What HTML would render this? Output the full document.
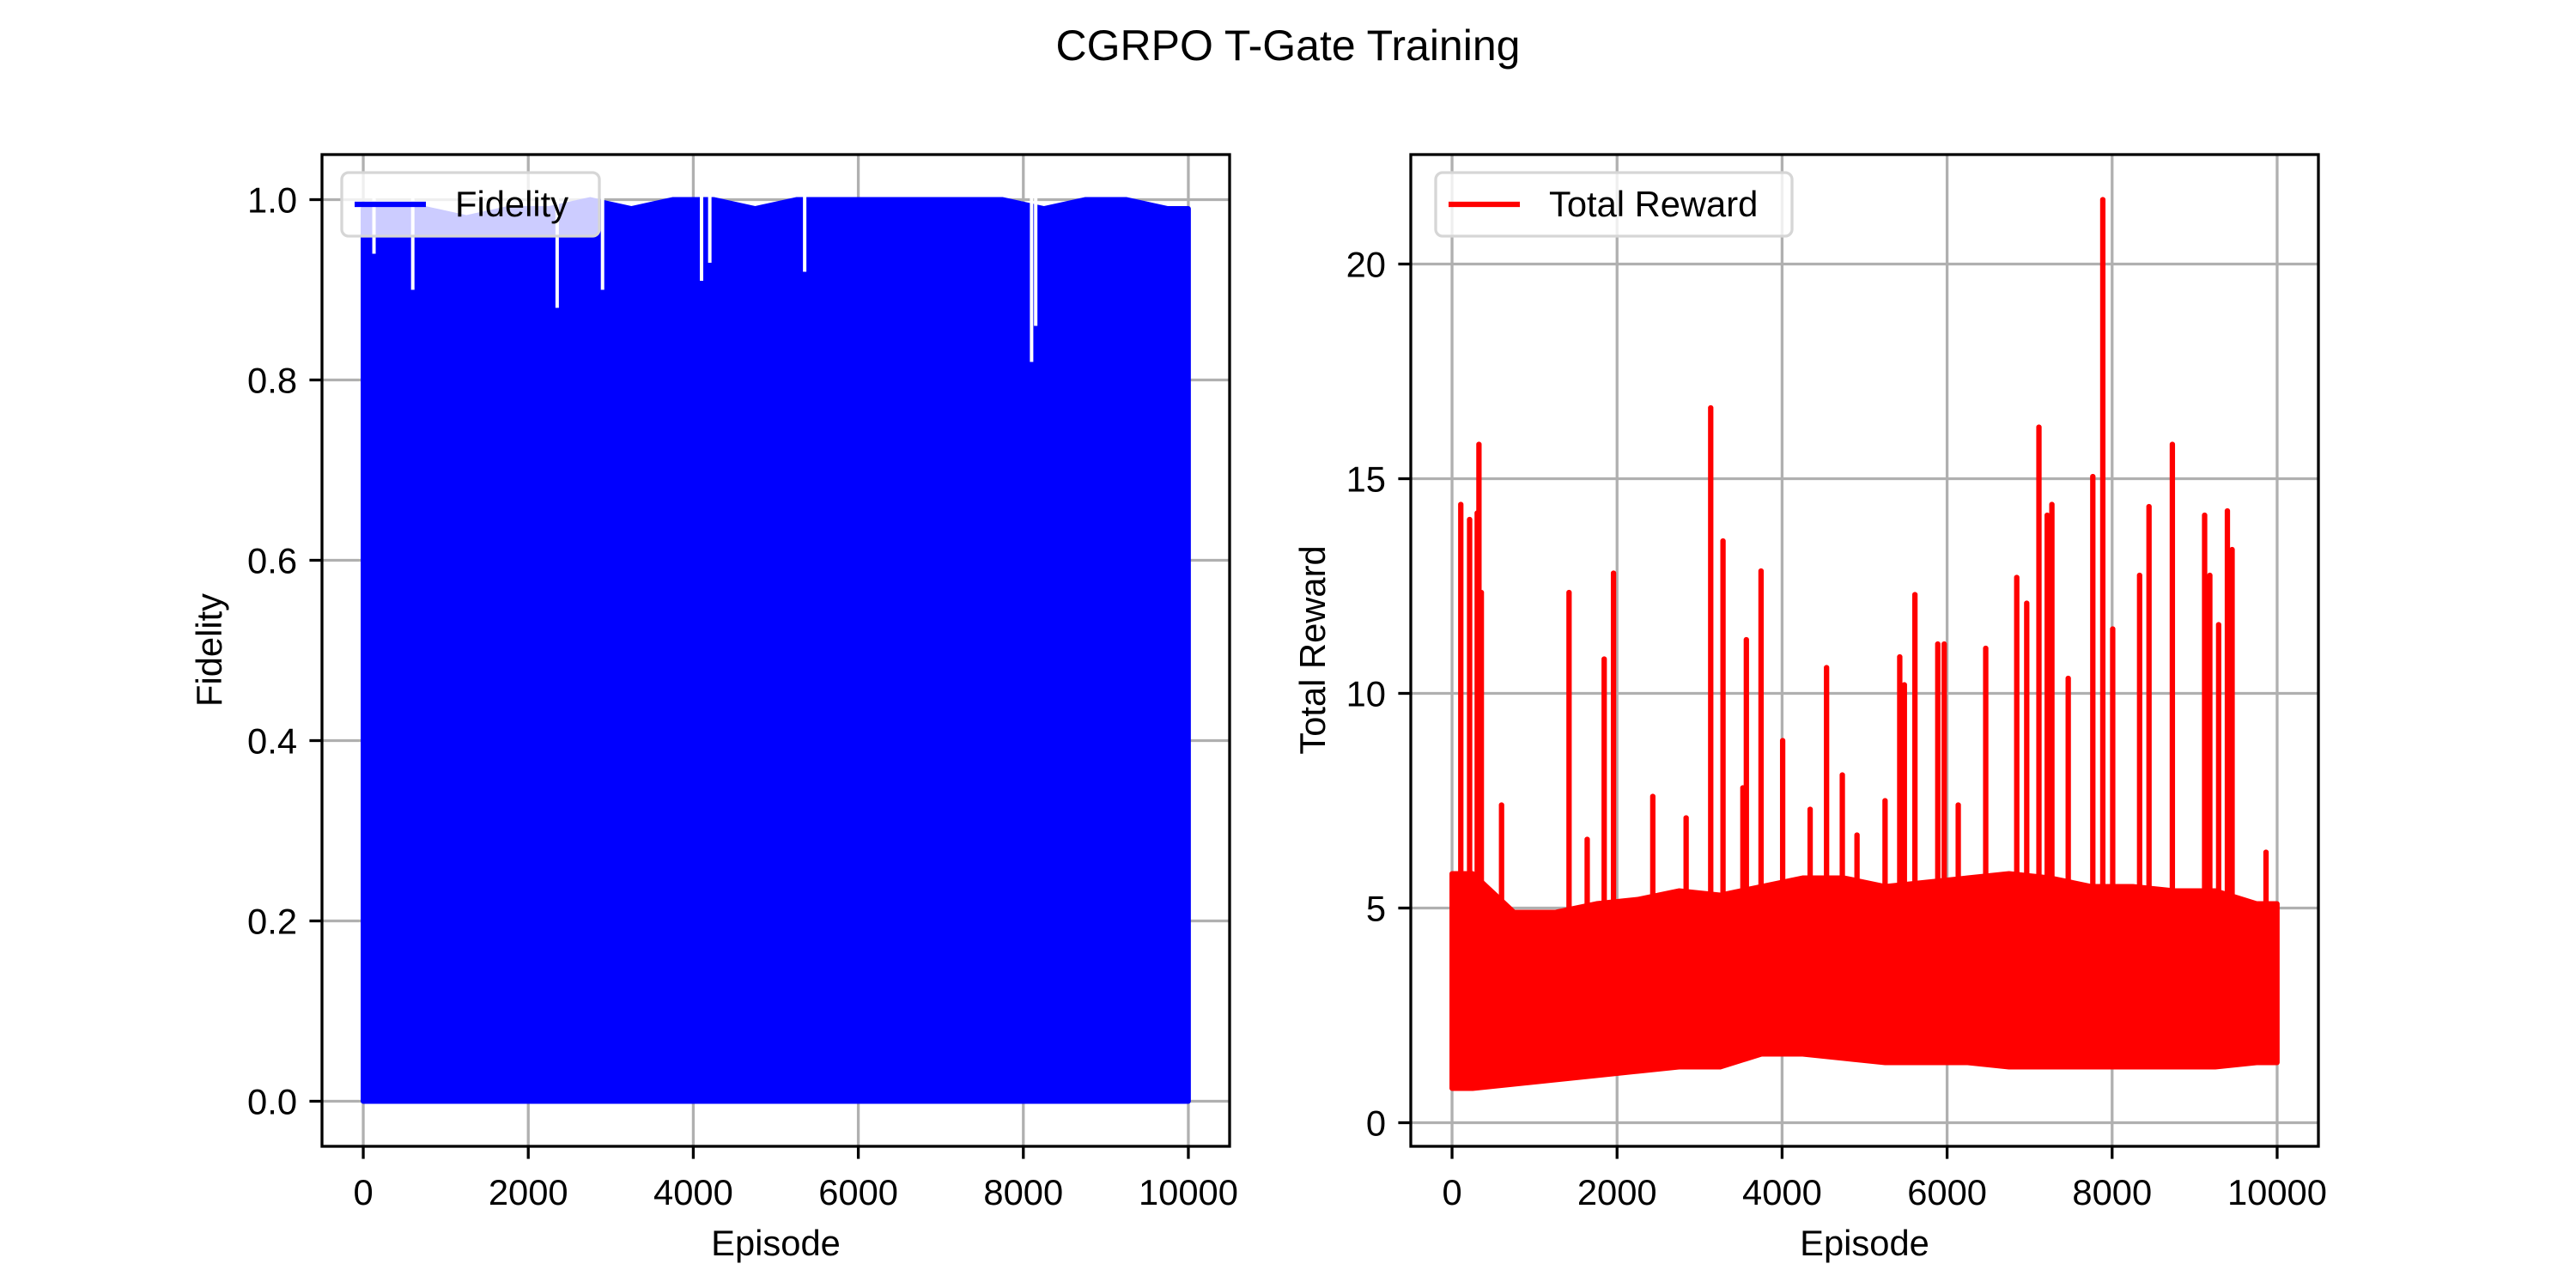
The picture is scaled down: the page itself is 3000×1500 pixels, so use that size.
<!DOCTYPE html>
<html><head><meta charset="utf-8"><style>
html,body{margin:0;padding:0;background:#fff;}
svg{display:block;font-family:"Liberation Sans","DejaVu Sans",sans-serif;}
</style></head><body>
<svg id="fig" width="3000" height="1500" viewBox="0 0 3000 1500">
<rect width="3000" height="1500" fill="#fff"/>
<text x="1500" y="70" font-size="50" text-anchor="middle">CGRPO T-Gate Training</text>
<g id="ax1"></g>
<g id="ax2"></g>
</svg>
<script>
// ---- data ----
const xTicks = [0, 2000, 4000, 6000, 8000, 10000];
const fidTicks = [0.0, 0.2, 0.4, 0.6, 0.8, 1.0];
const rewTicks = [0, 5, 10, 15, 20];
// fidelity envelope per 500-episode bin
const fidBinStart = [0,500,1000,1500,2000,2500,3000,3500,4000,4500,5000,5500,6000,6500,7000,7500,8000,8500,9000,9500];
const fidHi = [0.99,0.99,0.98,0.99,0.99,1.0,0.99,1.0,1.0,0.99,1.0,1.0,1.0,1.0,1.0,1.0,0.99,1.0,1.0,0.99];
const fidLo = [0.0,0.0,0.0,0.0,0.0,0.0,0.0,0.0,0.0,0.0,0.0,0.0,0.0,0.0,0.0,0.0,0.0,0.0,0.0,0.0];
const fidDipEp = [130, 600, 2350, 2900, 4100, 4200, 5350, 8100, 8150];
const fidDipVal = [0.94, 0.9, 0.88, 0.9, 0.91, 0.93, 0.92, 0.82, 0.86];
// reward envelope per 500-episode bin
const rewBinStart = [0,500,1000,1500,2000,2500,3000,3500,4000,4500,5000,5500,6000,6500,7000,7500,8000,8500,9000,9500];
const rewHi = [5.8,4.9,4.9,5.1,5.2,5.4,5.3,5.5,5.7,5.7,5.5,5.6,5.7,5.8,5.7,5.5,5.5,5.4,5.4,5.1];
const rewLo = [0.8,0.9,1.0,1.1,1.2,1.3,1.3,1.6,1.6,1.5,1.4,1.4,1.4,1.3,1.3,1.3,1.3,1.3,1.3,1.4];
const spikeEp = [106,213,305,326,355,600,1418,1638,1844,1957,2433,2837,3135,3284,3525,3567,3745,4007,4340,4539,4730,4908,5248,5426,5482,5610,5887,5965,6135,6468,6844,6965,7113,7213,7270,7468,7766,7887,8007,8333,8447,8730,9121,9184,9291,9397,9454,9865];
const spikeVal = [14.4,14.05,14.2,15.8,12.35,7.4,12.35,6.6,10.8,12.8,7.6,7.1,16.65,13.55,7.8,11.25,12.85,8.9,7.3,10.6,8.1,6.7,7.5,10.85,10.2,12.3,11.15,11.15,7.4,11.05,12.7,12.1,16.2,14.15,14.4,10.35,15.05,21.5,11.5,12.75,14.35,15.8,14.15,12.75,11.6,14.25,13.35,6.3];

const NS = "http://www.w3.org/2000/svg";
function mk(parent, tag, attrs, name){
  const e = document.createElementNS(NS, tag);
  for (const k in attrs) e.setAttribute(k, attrs[k]);
  
  
  parent.appendChild(e); return e;
}
const X0=-500, X1=10500;
function axis(g, L, R, T, B, ymin, ymax, yticks, fmt){
  const sx = v => L + (v - X0) / (X1 - X0) * (R - L);
  const sy = v => B - (v - ymin) / (ymax - ymin) * (B - T);
  xTicks.forEach(t => mk(g,'line',{x1:sx(t),x2:sx(t),y1:T,y2:B,stroke:'#b0b0b0','stroke-width':3.3},'x-gridline'));
  yticks.forEach(t => mk(g,'line',{x1:L,x2:R,y1:sy(t),y2:sy(t),stroke:'#b0b0b0','stroke-width':3.3},'y-gridline'));
  xTicks.forEach(t => {
    mk(g,'line',{x1:sx(t),x2:sx(t),y1:B,y2:B+14.6,stroke:'#000','stroke-width':3.3},'x-tick');
    const tx = mk(g,'text',{x:sx(t),y:B+68,'font-size':41.7,'text-anchor':'middle'},'x-tick-label');
    tx.textContent = t;
  });
  yticks.forEach(t => {
    mk(g,'line',{x1:L-14.6,x2:L,y1:sy(t),y2:sy(t),stroke:'#000','stroke-width':3.3},'y-tick');
    const ty = mk(g,'text',{x:L-29,y:sy(t)+15,'font-size':41.7,'text-anchor':'end'},'y-tick-label');
    ty.textContent = fmt(t);
  });
  const xl = mk(g,'text',{x:(L+R)/2,y:1462,'font-size':41.7,'text-anchor':'middle'},'x-axis-title');
  xl.textContent = 'Episode';
  return {sx, sy};
}
function bandPath(a, starts, hi, lo){
  const n = starts.length;
  const cx = i => Math.min(starts[i] + 250, 9999);
  let d = `M${a.sx(0)},${a.sy(hi[0])} `;
  for (let i=0;i<n;i++) d += `L${a.sx(cx(i))},${a.sy(hi[i])} `;
  d += `L${a.sx(9999)},${a.sy(hi[n-1])} L${a.sx(9999)},${a.sy(lo[n-1])} `;
  for (let i=n-1;i>=0;i--) d += `L${a.sx(cx(i))},${a.sy(lo[i])} `;
  d += `L${a.sx(0)},${a.sy(lo[0])} Z`;
  return d;
}
// ---- fidelity ----
const g1 = document.getElementById('ax1');
const L1=375,R1=1432,T=180,B=1335;
const a1 = axis(g1,L1,R1,T,B,-0.05,1.05,fidTicks,v=>v.toFixed(1));
mk(g1,'path',{d:bandPath(a1,fidBinStart,fidHi,fidLo),fill:'#0000ff',stroke:'#0000ff','stroke-width':6,'stroke-linejoin':'round'},'fidelity-line');
fidDipEp.forEach((ep,i)=>mk(g1,'rect',{x:a1.sx(ep)-2,y:a1.sy(1.01),width:4,height:a1.sy(fidDipVal[i])-a1.sy(1.01),fill:'#fff'},'fidelity-dip'));
mk(g1,'rect',{x:L1,y:T,width:R1-L1,height:B-T,fill:'none',stroke:'#000','stroke-width':3.3},'axes-frame');
{
  const yl = mk(g1,'text',{x:0,y:0,'font-size':41.7,'text-anchor':'middle',transform:'translate(258,757) rotate(-90)'},'y-axis-title');
  yl.textContent='Fidelity';
  const lg = mk(g1,'g',{},'legend');
  mk(lg,'rect',{x:398,y:201,width:300,height:74,rx:8,fill:'#fff','fill-opacity':0.8,stroke:'#d6d6d6','stroke-width':3.3},'legend-box');
  mk(lg,'line',{x1:413,x2:496,y1:238,y2:238,stroke:'#0000ff','stroke-width':6.25},'legend-swatch');
  const lt = mk(lg,'text',{x:530,y:252,'font-size':41.7},'legend-entry'); lt.textContent='Fidelity';
}
// ---- reward ----
const g2 = document.getElementById('ax2');
const L2=1643,R2=2700;
const a2 = axis(g2,L2,R2,T,B,-0.55,22.55,rewTicks,v=>String(v));
mk(g2,'path',{d:bandPath(a2,rewBinStart,rewHi,rewLo),fill:'#ff0000',stroke:'#ff0000','stroke-width':6,'stroke-linejoin':'round'},'reward-band');
spikeEp.forEach((ep,i)=>mk(g2,'line',{x1:a2.sx(ep),x2:a2.sx(ep),y1:a2.sy(4),y2:a2.sy(spikeVal[i]),stroke:'#ff0000','stroke-width':6.25,'stroke-linecap':'round'},'reward-spike'));
mk(g2,'rect',{x:L2,y:T,width:R2-L2,height:B-T,fill:'none',stroke:'#000','stroke-width':3.3},'axes-frame');
{
  const yl = mk(g2,'text',{x:0,y:0,'font-size':41.7,'text-anchor':'middle',transform:'translate(1543,757) rotate(-90)'},'y-axis-title');
  yl.textContent='Total Reward';
  const lg = mk(g2,'g',{},'legend');
  mk(lg,'rect',{x:1672,y:201,width:415,height:74,rx:8,fill:'#fff','fill-opacity':0.8,stroke:'#d6d6d6','stroke-width':3.3},'legend-box');
  mk(lg,'line',{x1:1687,x2:1770,y1:238,y2:238,stroke:'#ff0000','stroke-width':6.25},'legend-swatch');
  const lt = mk(lg,'text',{x:1804,y:252,'font-size':41.7},'legend-entry'); lt.textContent='Total Reward';
}
</script>
</body></html>
